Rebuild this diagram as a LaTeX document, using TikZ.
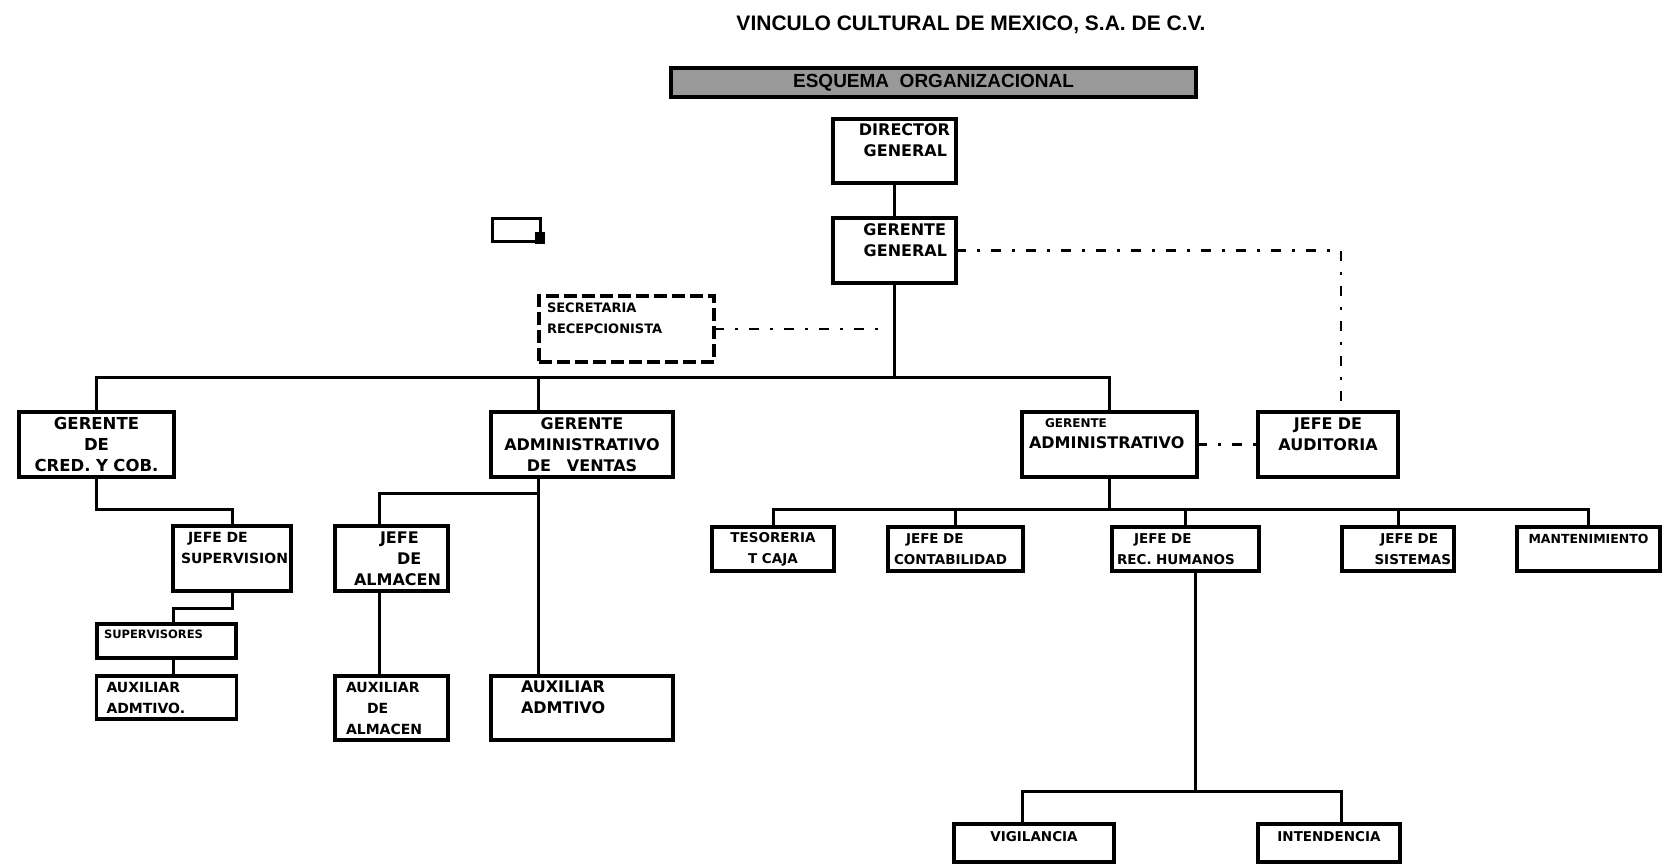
\documentclass[tikz,border=0pt]{standalone}
\usepackage{fontspec}
\setmainfont{Liberation Sans}
\newfontfamily\cajafont{DejaVu Sans}
\usepackage{tikz}
\usetikzlibrary{positioning, calc}
\tikzstyle{cajabox}=[rectangle,draw=black,line width=3.2pt,inner sep=0pt,
outer sep=0pt,align=center,font=\cajafont\bfseries\fontsize{16}{21}\selectfont]
\tikzstyle{cajachica}=[cajabox,font=\cajafont\bfseries\fontsize{13.5}{21}\selectfont]
\tikzstyle{cajagris}=[rectangle,draw=black,line width=3.2pt,fill=black!40,
inner sep=0pt,font=\bfseries\fontsize{19}{22}\selectfont]
\tikzstyle{lineapath} = [line width=3pt]
\tikzstyle{rayapunto} = [line width=2.5pt, dash pattern=on 10pt off 11pt on 3pt off 11pt]
\tikzset{
    medida/.style args={#1 and #2}{
        text width=#1, minimum height=#2
    }
}

\begin{document}
\begin{tikzpicture}[x=1pt, y=-1pt]
    \useasboundingbox (0,0) rectangle (1677,864);

    \node[font=\bfseries\fontsize{21}{25}\selectfont] (titulo) at (971,25) {VINCULO CULTURAL DE MEXICO, S.A. DE C.V.};
    \node[cajagris, minimum width=525pt, minimum height=29pt] (esquema) at (933.5,82.5) {ESQUEMA\ \ ORGANIZACIONAL};

    \node[cajabox, medida=123pt and 64pt, align=right] (dg) at (894.5,151) {DIRECTOR\hspace*{6pt}\null\\GENERAL\hspace*{9pt}\null\\~};
    \node[cajabox, medida=123pt and 65pt, align=right, below=35pt of dg] (gg) {GERENTE\hspace*{10pt}\null\\GENERAL\hspace*{9pt}\null\\~};

    \node[cajabox, medida=175pt and 66pt, align=left, dash pattern=on 13pt off 5pt,
          font=\cajafont\bfseries\fontsize{13}{21}\selectfont] (secre) at (626.5,329)
          {\hspace*{8pt}SECRETARIA\\\hspace*{8pt}RECEPCIONISTA\\~};

    \node[cajabox, medida=155pt and 65pt, font=\cajafont\bfseries\fontsize{16.5}{21}\selectfont] (gdc) at (96.5,444.5) {GERENTE\\DE\\CRED. Y COB.};
    \node[cajabox, medida=182pt and 65pt, right=317pt of gdc] (gav) {GERENTE\\ADMINISTRATIVO\\DE\ \ \ VENTAS};
    \node[cajabox, medida=175pt and 65pt, align=left, right=349pt of gav] (ga) {\hspace*{23pt}{\fontsize{12}{21}\selectfont GERENTE}\\\hspace*{7pt}ADMINISTRATIVO\\~};
    \node[cajabox, medida=140pt and 65pt, right=61pt of ga] (ja) {JEFE DE\\AUDITORIA\\~};

    \node[cajachica, medida=118pt and 65pt, align=left, font=\cajafont\bfseries\fontsize{14}{21}\selectfont] (js) at (232,558.5) {\hspace*{15pt}JEFE DE\\\hspace*{8pt}SUPERVISION\\~};
    \node[cajabox, medida=139pt and 34pt, align=left, font=\cajafont\bfseries\fontsize{11.5}{14}\selectfont] (sup) at (166.5,641) {\hspace*{7pt}SUPERVISORES\\~};
    \node[cajachica, medida=140pt and 43pt, align=left, below=18pt of sup, font=\cajafont\bfseries\fontsize{14}{21}\selectfont] (auxa) {\hspace*{10pt}AUXILIAR\\\hspace*{10pt}ADMTIVO.};

    \node[cajabox, medida=113pt and 65pt, align=left] (jalm) at (391.5,558.5) {\hspace*{45pt}JEFE\\\hspace*{62pt}DE\\\hspace*{19pt}ALMACEN};
    \node[cajachica, medida=113pt and 64pt, align=left, below=85pt of jalm, font=\cajafont\bfseries\fontsize{14}{21}\selectfont] (auxalm) {\hspace*{11pt}AUXILIAR\\\hspace*{32pt}DE\\\hspace*{11pt}ALMACEN};
    \node[cajabox, medida=182pt and 64pt, align=left, below=199pt of gav] (auxadm) {\hspace*{30pt}AUXILIAR\\\hspace*{30pt}ADMTIVO\\~};

    \node[cajachica, medida=122pt and 44pt] (tes) at (773,549) {TESORERIA\\T CAJA};
    \node[cajachica, medida=135pt and 44pt, align=left, right=54pt of tes] (conta) {\hspace*{18pt}JEFE DE\\\hspace*{6pt}CONTABILIDAD};
    \node[cajachica, medida=147pt and 44pt, align=left, right=89pt of conta] (rh) {\hspace*{22pt}JEFE DE\\\hspace*{5pt}REC. HUMANOS};
    \node[cajachica, medida=112pt and 44pt, align=right, right=83pt of rh] (sis) {JEFE DE\hspace*{16pt}\null\\SISTEMAS\hspace*{3pt}\null};
    \node[cajachica, medida=143pt and 44pt, right=63pt of sis, font=\cajafont\bfseries\fontsize{12.5}{21}\selectfont] (mant) {MANTENIMIENTO\\~};

    \node[cajachica, medida=160pt and 38pt, font=\cajafont\bfseries\fontsize{13.5}{14}\selectfont] (vig) at (1034,843) {VIGILANCIA\\~};
    \node[cajachica, medida=142pt and 38pt, right=144pt of vig, font=\cajafont\bfseries\fontsize{13.5}{14}\selectfont] (inten) {INTENDENCIA\\~};

    % marco suelto
    \draw[line width=3pt] (492.5,218.5) rectangle (540.5,241);
    \fill (535,232) rectangle (545,244);

    \coordinate (bus) at (0,377);
    \coordinate (credy) at (0,509);
    \coordinate (ramal) at (0,493);
    \coordinate (supy) at (0,608);
    \coordinate (fila) at (0,509);
    \coordinate (basev) at (0,791);
    \coordinate (gavx) at (538,0);
    \coordinate (almx) at (379,0);
    \coordinate (supx) at (173,0);
    \coordinate (rhx) at (1195,0);
    \coordinate (vigx) at (1022,0);
    \coordinate (audx) at (1341,0);
    \coordinate (secfin) at (879,329);

    \draw[lineapath] (dg) -- (gg);
    \draw[lineapath] (gg.south) -- (gg.south |- bus);
    \draw[lineapath] (gdc.north) |- (ga.north |- bus) -- (ga.north);
    \draw[lineapath] (gavx |- gav.north) -- (gavx |- bus);
    \draw[lineapath] (gavx |- gav.south) -- (gavx |- auxadm.north);
    \draw[lineapath] (gavx |- ramal) -| (almx |- jalm.north);
    \draw[lineapath] (almx |- jalm.south) -- (almx |- auxalm.north);
    \draw[lineapath] (gdc.south) |- (js.north |- credy) -- (js.north);
    \draw[lineapath] (js.south) |- (supx |- supy) -- (supx |- sup.north);
    \draw[lineapath] (supx |- sup.south) -- (supx |- auxa.north);
    \draw[lineapath] (ga.south) -- (ga.south |- fila);
    \draw[lineapath] (tes.north) |- (mant.north |- fila) -- (mant.north);
    \path[lineapath]
    (conta.north |- fila) edge (conta.north)
    (rh.north |- fila) edge (rh.north)
    (sis.north |- fila) edge (sis.north);
    \draw[lineapath] (rhx |- rh.south) -- (rhx |- basev);
    \draw[lineapath] (vigx |- vig.north) |- (audx |- basev) -- (audx |- inten.north);

    \draw[rayapunto] (gg.east) -| (audx |- ja.north);
    \draw[rayapunto] (secre) -- (secfin);
    \draw[rayapunto] (ga) -- (ja);
\end{tikzpicture}
\end{document}
